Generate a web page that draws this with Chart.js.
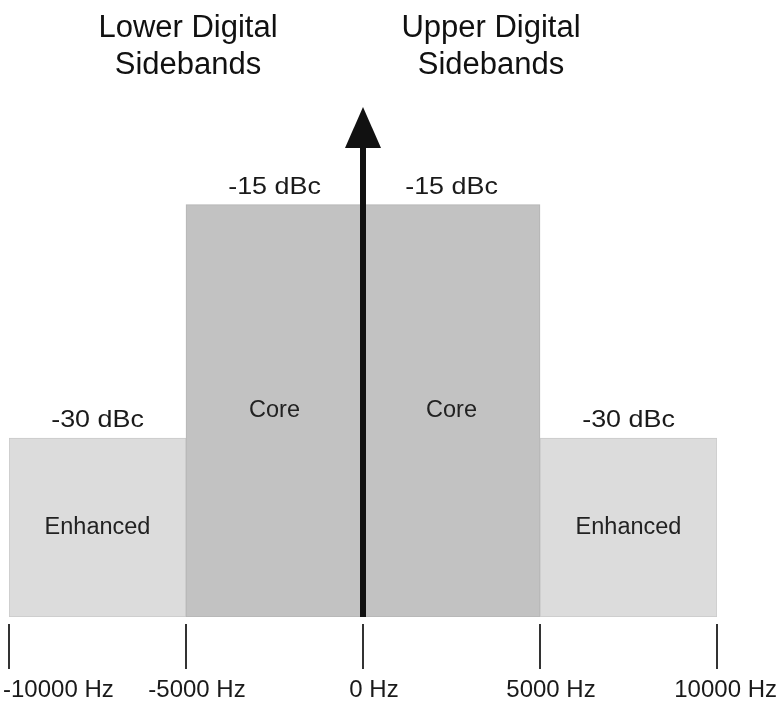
<!DOCTYPE html>
<html>
<head>
<meta charset="utf-8">
<script src="https://cdn.jsdelivr.net/npm/chart.js@4"></script>
<style>
  html, body { margin: 0; padding: 0; background: #fff; }
  #wrap { width: 778px; height: 703px; position: relative; }
</style>
</head>
<body>
<div id="wrap"><canvas id="sidebandChart"></canvas></div>
<script>
// data
const bandNames = ['Enhanced', 'Core', 'Core', 'Enhanced'];
const bandCenters = [-7500, -2500, 2500, 7500];      // Hz
const bandLevels = [-30, -15, -15, -30];             // dBc
const levelLabels = ['-30 dBc', '-15 dBc', '-15 dBc', '-30 dBc'];
const floorLevel = -41.5;
const carrierX = [0, 0];
const carrierLevels = [-41.5, -11.3];
const tickValues = [-10000, -5000, 0, 5000, 10000];
const tickLabels = ['-10000 Hz', '-5000 Hz', '0 Hz', '5000 Hz', '10000 Hz'];
const sidebandTitles = [['Lower Digital', 'Sidebands'], ['Upper Digital', 'Sidebands']];

var FONT = '"Liberation Sans", Arial, sans-serif';

// text, axis ticks and the arrow head
var annotations = {
  id: 'annotations',
  afterDatasetsDraw: function(chart) {
    var ctx = chart.ctx;
    // arrow head on top of the carrier line
    var meta = chart.getDatasetMeta(0);
    var last = meta.data[meta.data.length - 1];
    ctx.save();
    ctx.fillStyle = '#111';
    ctx.beginPath();
    ctx.moveTo(last.x, last.y - 40);
    ctx.lineTo(last.x + 18, last.y + 1);
    ctx.lineTo(last.x - 18, last.y + 1);
    ctx.closePath();
    ctx.fill();
    ctx.restore();
  },
  afterDraw: function(chart) {
    var ctx = chart.ctx;
    var x = chart.scales.x, y = chart.scales.y;
    var bottom = y.getPixelForValue(floorLevel);
    ctx.save();

    // frequency ticks
    ctx.strokeStyle = '#333';
    ctx.lineWidth = 2;
    tickValues.forEach(function(v) {
      var px = Math.round(x.getPixelForValue(v));
      ctx.beginPath();
      ctx.moveTo(px, bottom + 7);
      ctx.lineTo(px, bottom + 52);
      ctx.stroke();
    });
    ctx.fillStyle = '#1a1a1a';
    ctx.font = '24px ' + FONT;
    ctx.textBaseline = 'alphabetic';
    ctx.textAlign = 'left';
    tickValues.forEach(function(v, i) {
      var w = ctx.measureText(tickLabels[i]).width;
      var left = x.getPixelForValue(v) + 11 - w / 2;
      left = Math.max(3, Math.min(chart.width - w - 1, left));
      ctx.fillText(tickLabels[i], left, bottom + 80);
    });

    // band names and levels
    ctx.textAlign = 'center';
    bandCenters.forEach(function(c, i) {
      var px = x.getPixelForValue(c);
      var top = y.getPixelForValue(bandLevels[i]);
      ctx.fillStyle = '#222';
      ctx.font = '23.5px ' + FONT;
      ctx.textBaseline = 'middle';
      ctx.fillText(bandNames[i], px, (top + bottom) / 2);
      // level labels are a bit wider than the font
      ctx.save();
      ctx.fillStyle = '#1a1a1a';
      ctx.font = '24px ' + FONT;
      ctx.textBaseline = 'alphabetic';
      ctx.translate(px, top - 11);
      ctx.scale(1.12, 1);
      ctx.fillText(levelLabels[i], 0, 0);
      ctx.restore();
    });

    // sideband titles
    ctx.fillStyle = '#111';
    ctx.font = '31px ' + FONT;
    ctx.textBaseline = 'alphabetic';
    var titleX = [188, 491];
    sidebandTitles.forEach(function(lines, i) {
      ctx.fillText(lines[0], titleX[i], 37);
      ctx.fillText(lines[1], titleX[i], 74);
    });
    ctx.restore();
  }
};

var ctx = document.getElementById('sidebandChart').getContext('2d');
var sidebandChart = new Chart(ctx, {
  type: 'bar',
  data: {
    datasets: [{
      type: 'line',
      label: 'Carrier',
      data: carrierX.map(function(v, i) { return { x: v, y: carrierLevels[i] }; }),
      borderColor: '#111',
      borderWidth: 6,
      pointRadius: 0,
      order: 0
    }, {
      label: 'Sidebands',
      data: bandCenters.map(function(c, i) { return { x: c, y: [floorLevel, bandLevels[i]] }; }),
      backgroundColor: ['#dcdcdc', '#c2c2c2', '#c2c2c2', '#dcdcdc'],
      borderColor: ['#cacaca', '#b4b4b4', '#b4b4b4', '#cacaca'],
      borderWidth: 1,
      borderSkipped: false,
      barPercentage: 1,
      categoryPercentage: 1,
      order: 1
    }]
  },
  options: {
    responsive: true,
    maintainAspectRatio: false,
    animation: false,
    layout: { padding: { left: 9, right: 61, top: 49, bottom: 86 } },
    plugins: { legend: { display: false }, tooltip: { enabled: false } },
    scales: {
      x: {
        type: 'linear',
        display: false,
        offset: false,
        grid: { offset: false },
        min: -10000,
        max: 10000,
        ticks: { stepSize: 5000 }
      },
      y: {
        type: 'linear',
        display: false,
        beginAtZero: false,
        min: -41.5,
        max: -5
      }
    }
  },
  plugins: [annotations]
});
</script>
</body>
</html>
